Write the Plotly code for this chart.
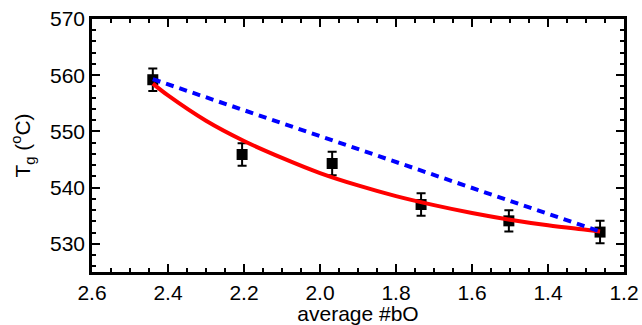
import plotly.graph_objects as go

# measured data
x_pts = [2.44, 2.205, 1.968, 1.734, 1.503, 1.263]
y_pts = [559.2, 545.9, 544.3, 537.0, 534.1, 532.1]
y_err = [2.0, 2.0, 2.1, 2.0, 1.9, 2.0]

# red fitted curve
x_fit = [2.44, 2.4, 2.3, 2.2, 2.1, 2.0, 1.9, 1.8, 1.7, 1.6, 1.5, 1.4, 1.3, 1.263]
y_fit = [558.5, 556.4, 551.9, 548.3, 545.3, 542.6, 540.4, 538.5, 536.9, 535.5, 534.3, 533.3, 532.5, 532.2]

# blue dashed line endpoints
x_lin = [2.44, 1.263]
y_lin = [559.3, 532.2]

fig = go.Figure()
fig.add_trace(go.Scatter(x=x_pts, y=y_pts, mode="markers",
                         marker=dict(symbol="square", size=11, color="black"),
                         error_y=dict(type="data", array=y_err, color="black", thickness=2, width=4.5),
                         showlegend=False))
fig.add_trace(go.Scatter(x=x_fit, y=y_fit, mode="lines", line=dict(color="#ff0000", width=4, shape="spline"), showlegend=False))
fig.add_trace(go.Scatter(x=x_lin, y=y_lin, mode="lines", line=dict(color="#0000ff", width=4, dash="8px,6px"), showlegend=False))

font = dict(family="Liberation Sans, Arial, sans-serif", size=21, color="black")
axis_common = dict(showline=True, linecolor="black", linewidth=2.5, mirror="ticks",
                   ticks="inside", ticklen=8, tickwidth=2, tickcolor="black",
                   showgrid=False, zeroline=False, tickfont=font, automargin=False)
fig.update_xaxes(range=[2.6, 1.2], tickvals=[2.6, 2.4, 2.2, 2.0, 1.8, 1.6, 1.4, 1.2],
                 ticktext=["2.6", "2.4", "2.2", "2.0", "1.8", "1.6", "1.4", "1.2"],
                 minor=dict(dtick=0.05, ticks="inside", ticklen=4, tickwidth=2, tickcolor="black"),
                 title=dict(text="average #bO", font=font, standoff=14), **axis_common)
fig.update_yaxes(range=[525, 570], tickvals=[530, 540, 550, 560, 570],
                 minor=dict(dtick=2, tick0=0, ticks="inside", ticklen=4, tickwidth=2, tickcolor="black"),
                 title=dict(text="T<sub>g</sub> (<sup>o</sup>C)", font=font, standoff=14), **axis_common)
fig.update_layout(width=642, height=325, margin=dict(l=92, r=18, t=19, b=53),
                  plot_bgcolor="white", paper_bgcolor="white", font=font)
fig.write_html("out.html")
